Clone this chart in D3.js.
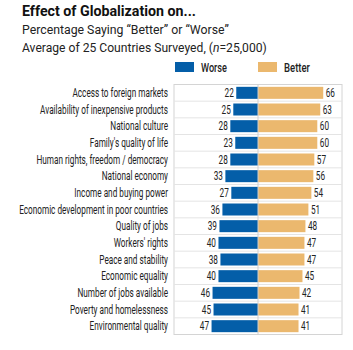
<!DOCTYPE html>
<html>
<head>
<meta charset="utf-8">
<script src="https://cdn.jsdelivr.net/npm/d3@7.9.0/dist/d3.min.js"></script>
<style>
  body { margin: 0; background: #fff; }
  svg text { font-family: Roboto, "Open Sans", sans-serif; fill: #222; }
</style>
</head>
<body>
<div id="chart"></div>
<script>
const categories = [
  "Access to foreign markets",
  "Availability of inexpensive products",
  "National culture",
  "Family's quality of life",
  "Human rights, freedom / democracy",
  "National economy",
  "Income and buying power",
  "Economic development in poor countries",
  "Quality of jobs",
  "Workers' rights",
  "Peace and stability",
  "Economic equality",
  "Number of jobs available",
  "Poverty and homelessness",
  "Environmental quality"
];
const worse = [22, 25, 28, 23, 28, 33, 27, 36, 39, 40, 38, 40, 46, 45, 47];
const better = [66, 63, 60, 60, 57, 56, 54, 51, 48, 47, 47, 45, 42, 41, 41];
const seriesNames = ["Worse", "Better"];
const colors = { Worse: "#045ea8", Better: "#ebb86e" };

const W = 353, H = 350;
const svg = d3.select("#chart").append("svg")
    .attr("width", W)
    .attr("height", H);

// squeeze a text horizontally so it spans `target` px (condensed look)
function fitWidth(sel, target) {
    const w = sel.node().getComputedTextLength();
    const k = target / w;
    const x0 = +sel.attr("x"), y0 = +sel.attr("y");
    sel.attr("x", 0).attr("y", 0)
        .attr("transform", `translate(${x0},${y0}) scale(${k},1)`);
    return k;
}

// Titles
const title = svg.append("text")
    .attr("x", 22).attr("y", 16)
    .style("font-size", "14.5px")
    .style("font-weight", "bold")
    .style("fill", "#111")
    .text("Effect of Globalization on...");
fitWidth(title, 174);

const sub1 = svg.append("text")
    .attr("x", 22).attr("y", 34)
    .style("font-size", "13px")
    .text("Percentage Saying \u201cBetter\u201d or \u201cWorse\u201d");
fitWidth(sub1, 207);

const sub2 = svg.append("text")
    .attr("x", 22).attr("y", 52)
    .style("font-size", "13px");
sub2.append("tspan").text("Average of 25 Countries Surveyed, (");
sub2.append("tspan").style("font-style", "italic").text("n");
sub2.append("tspan").text("=25,000)");
fitWidth(sub2, 245);

// Scales
const x = d3.scaleLinear()
    .domain([-85, 85])
    .range([174, 342]);

const y = d3.scaleBand()
    .domain(categories)
    .range([84.5, 334.5])
    .paddingInner(0.28)
    .paddingOuter(0.14);

const step = y.step();
const plotTop = y.range()[0], plotBottom = y.range()[1];

// Frame and row separators
svg.append("rect")
    .attr("x", x(-85)).attr("y", plotTop)
    .attr("width", x(85) - x(-85)).attr("height", plotBottom - plotTop)
    .attr("fill", "none")
    .attr("stroke", "#d4d4d4")
    .attr("stroke-width", 1);

svg.selectAll("line.sep")
    .data(categories.slice(1))
    .enter()
    .append("line")
    .attr("class", "sep")
    .attr("x1", x(-85)).attr("x2", x(85))
    .attr("y1", (d, i) => plotTop + (i + 1) * step)
    .attr("y2", (d, i) => plotTop + (i + 1) * step)
    .attr("stroke", "#e4e4e4")
    .attr("stroke-width", 1);

// Bars
svg.selectAll("rect.worse")
    .data(categories)
    .enter()
    .append("rect")
    .attr("class", "worse")
    .attr("x", (d, i) => x(-worse[i]))
    .attr("y", d => y(d))
    .attr("width", (d, i) => x(0) - x(-worse[i]))
    .attr("height", y.bandwidth())
    .attr("fill", colors.Worse);

svg.selectAll("rect.better")
    .data(categories)
    .enter()
    .append("rect")
    .attr("class", "better")
    .attr("x", x(0))
    .attr("y", d => y(d))
    .attr("width", (d, i) => x(better[i]) - x(0))
    .attr("height", y.bandwidth())
    .attr("fill", colors.Better);

// Center line
svg.append("line")
    .attr("x1", x(0)).attr("x2", x(0))
    .attr("y1", plotTop).attr("y2", plotBottom)
    .attr("stroke", "#cfcfcf")
    .attr("stroke-width", 1);

// Category labels (condensed to fit the longest one into 149px)
const cats = svg.selectAll("text.cat")
    .data(categories)
    .enter()
    .append("text")
    .attr("class", "cat")
    .attr("text-anchor", "end")
    .attr("dy", "0.36em")
    .style("font-size", "12px")
    .text(d => d);
const longest = d3.max(cats.nodes(), n => n.getComputedTextLength());
const kc = 149 / longest;
cats.attr("transform", d => `translate(168,${y(d) + y.bandwidth() / 2}) scale(${kc},1)`);

// Value labels
svg.selectAll("text.wv")
    .data(categories)
    .enter()
    .append("text")
    .attr("class", "wv")
    .attr("text-anchor", "end")
    .attr("dy", "0.36em")
    .style("font-size", "12px")
    .attr("transform", (d, i) => `translate(${x(-worse[i]) - 2.5},${y(d) + y.bandwidth() / 2}) scale(${kc},1)`)
    .text((d, i) => worse[i]);

svg.selectAll("text.bv")
    .data(categories)
    .enter()
    .append("text")
    .attr("class", "bv")
    .attr("dy", "0.36em")
    .style("font-size", "12px")
    .attr("transform", (d, i) => `translate(${x(better[i]) + 2.5},${y(d) + y.bandwidth() / 2}) scale(${kc},1)`)
    .text((d, i) => better[i]);

// Legend
const legend = svg.selectAll("g.legend")
    .data(seriesNames)
    .enter()
    .append("g")
    .attr("class", "legend")
    .attr("transform", (d, i) => `translate(${i === 0 ? 175 : 258},62)`);

legend.append("rect")
    .attr("width", 19).attr("height", 10)
    .attr("fill", d => colors[d]);

legend.append("text")
    .attr("x", 26).attr("y", 10)
    .style("font-size", "12px")
    .style("font-weight", "500")
    .attr("transform", `scale(1,1)`)
    .text(d => d)
    .each(function() {
        const t = d3.select(this);
        fitWidth(t, 26);
    });
</script>
</body>
</html>
